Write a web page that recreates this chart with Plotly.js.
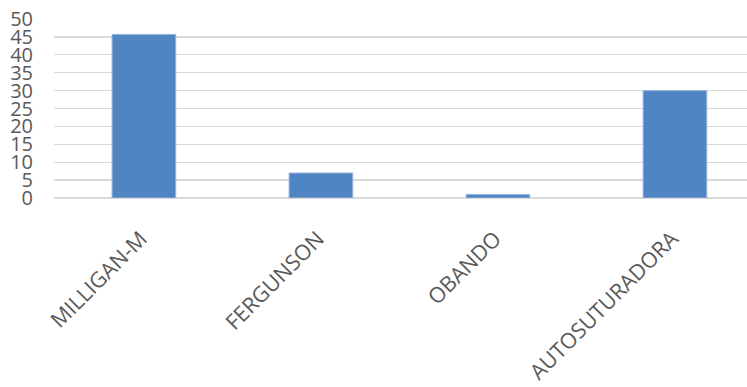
<!DOCTYPE html>
<html>
<head>
<meta charset="utf-8">
<script src="https://cdn.plot.ly/plotly-3.0.1.min.js"></script>
<style>html,body{margin:0;padding:0;background:#fff;overflow:hidden}#chart{width:747px;height:387px}</style>
</head>
<body>
<div id="chart"></div>
<script>
var categories = ["MILLIGAN-M", "FERGUNSON", "OBANDO", "AUTOSUTURADORA"];
var values = [45.7, 7, 1, 30];
var yTicks = [0, 5, 10, 15, 20, 25, 30, 35, 40, 45, 50];

var data = [{
  type: "bar",
  x: categories,
  y: values,
  width: 0.36,
  marker: { color: "#4f85c2", line: { color: "#9db8dd", width: 1 } },
  hoverinfo: "x+y"
}];

var layout = {
  width: 747,
  height: 387,
  margin: { l: 54, r: 0, t: 19, b: 189, pad: 0 },
  paper_bgcolor: "#ffffff",
  plot_bgcolor: "#ffffff",
  showlegend: false,
  xaxis: {
    type: "category",
    range: [-0.508, 3.407],
    tickangle: -45,
    showgrid: false,
    zeroline: false,
    showline: false,
    ticks: "",
    ticklabelstandoff: 23,
    ticklabelshift: -3,
    tickfont: { family: "Open Sans, sans-serif", size: 21.5, color: "#595959" }
  },
  yaxis: {
    range: [0, 50],
    tickmode: "array",
    tickvals: yTicks,
    ticktext: yTicks.map(String),
    showgrid: true,
    gridcolor: "#d9d9d9",
    gridwidth: 1.3,
    zeroline: true,
    zerolinecolor: "#d9d9d9",
    zerolinewidth: 1.3,
    showline: false,
    ticks: "",
    ticklabelstandoff: 20,
    tickfont: { family: "Open Sans, sans-serif", size: 20, color: "#595959" }
  }
};

Plotly.newPlot("chart", data, layout, { displayModeBar: false, staticPlot: true });
</script>
</body>
</html>
